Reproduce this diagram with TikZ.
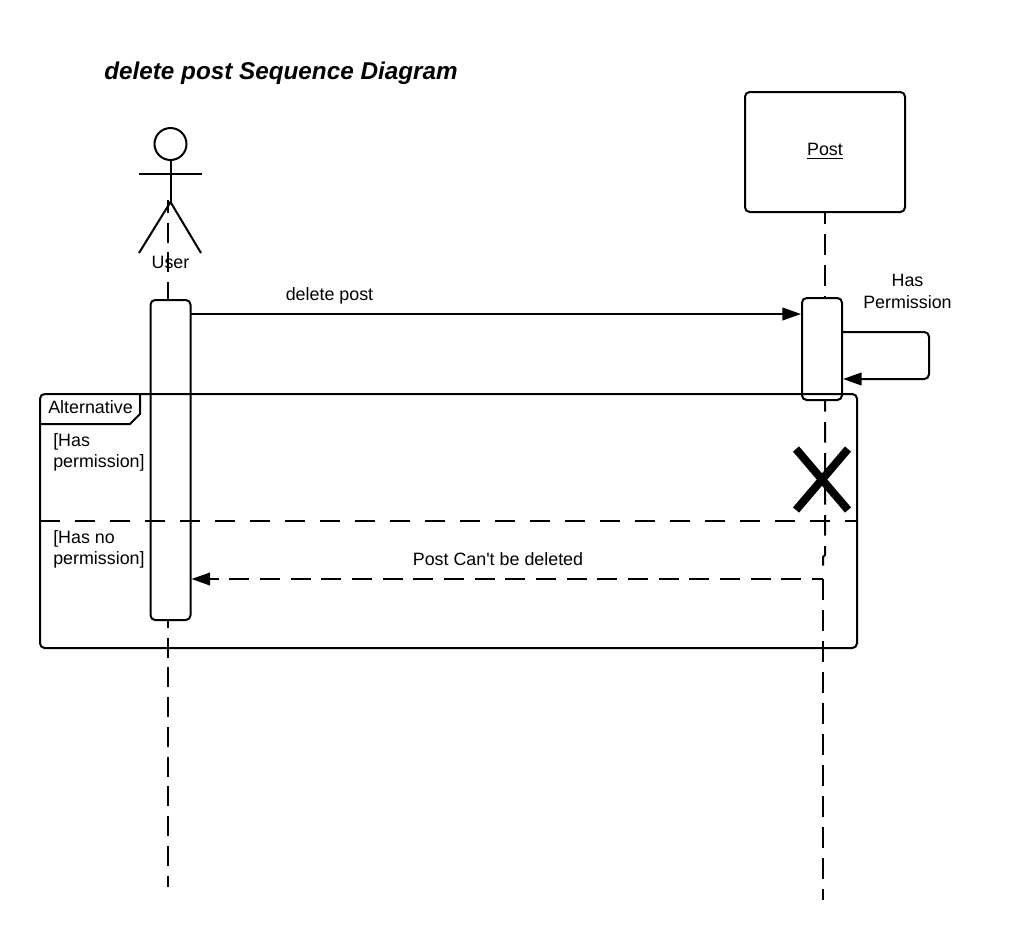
\documentclass[tikz,border=0pt]{standalone}
\usepackage{fontspec}
\setmainfont{Liberation Sans}
\usetikzlibrary{arrows.meta}
\tikzset{
  umlline/.style={draw=black,line width=1.5pt},
  lifeline/.style={draw=black,line width=1.5pt,dash pattern=on 15pt off 7.3pt},
  postline/.style={draw=black,line width=1.5pt,dash pattern=on 15.4pt off 7.85pt,dash phase=6.75pt},
  message/.style={umlline,-{Triangle[length=14pt,width=9.5pt]}},
  reply/.style={message,dash pattern=on 15pt off 8pt,dash phase=6.75pt},
  activation/.style={rectangle,draw=black,fill=white,line width=1.5pt,rounded corners=3.5pt,
    minimum width=30pt,outer sep=0pt,inner sep=0pt},
  label/.style={inner sep=0pt,font=\fontsize{13.4}{16}\selectfont,align=center},
  guard/.style={label,align=left}
}

\begin{document}
\begin{tikzpicture}[x=0.75pt,y=-0.75pt]
  \useasboundingbox (0,0) rectangle (1013,940);
  \node[inner sep=0pt,font=\fontsize{18.2}{22}\selectfont\bfseries\itshape] (title) at (281,73) {delete post Sequence Diagram};
  % actor
  \node[circle,draw=black,line width=1.5pt,minimum size=24pt,inner sep=0pt,outer sep=0pt] (head) at (170.5,144) {};
  \coordinate (hip) at (170.5,202);
  \coordinate (armleft) at (139,174);
  \coordinate (armright) at (202,174);
  \coordinate (legleft) at (139,253);
  \coordinate (legright) at (201,253);
  \draw[umlline] (head.south)--(hip);
  \draw[umlline] (armleft)--(armright);
  \draw[umlline] (legleft)--(hip)--(legright);
  \node[label] (user) at (170.5,262.5) {User};
  % post object
  \node[rectangle,draw=black,line width=1.5pt,rounded corners=3.5pt,minimum width=120pt,minimum height=90pt,
    inner sep=0pt,outer sep=0pt] (post) at (825,152) {};
  \node[label] (postname) at (825,151) {\underline{Post}};
  % activations
  \node[activation,minimum height=240pt] (userbar) at (170.5,460) {};
  \node[activation,minimum height=76.5pt] (postbar) at (822,349) {};
  % lifelines
  \coordinate (userstart) at (167.7,200);
  \coordinate (userend) at (167.7,887);
  \coordinate (postend) at (823,900);
  \coordinate (postjog) at (825,555);
  \coordinate (replystart) at (823,579);
  \draw[lifeline,dash phase=5.25pt] (userstart)--(userstart |- userbar.north);
  \draw[lifeline,dash phase=9pt] (userstart |- userbar.south)--(userend);
  \draw[postline] (post.south)--(post.south |- postbar.north);
  \draw[postline] (post.south |- postbar.south)--(postjog)--(823,557)--(823,566);
  \draw[postline,dash phase=0pt] (replystart)--(postend);
  % alternative frame
  \node[rectangle,draw=black,line width=1.5pt,rounded corners=3.5pt,minimum width=612.75pt,minimum height=190.5pt,
    inner sep=0pt,outer sep=0pt] (frame) at (448.5,521) {};
  \coordinate (tabtop) at (140,394);
  \coordinate (tabedge) at (140,414);
  \coordinate (tabcut) at (130,424);
  \coordinate (tabbottom) at (40,424);
  \draw[umlline] (tabtop)--(tabedge)--(tabcut)--(tabbottom);
  \node[label] (alt) at (90.5,407) {Alternative};
  \node[guard,anchor=north west] (guardyes) at (53,433) {[Has\\permission]};
  \node[guard,anchor=north west] (guardno) at (53,530) {[Has no\\permission]};
  \draw[umlline,dash pattern=on 15pt off 11.25pt] (frame.west |- 0,521)--(frame.east |- 0,521);
  % destruction
  \coordinate (xa) at (796,449);
  \coordinate (xb) at (848,510);
  \coordinate (xc) at (848,449);
  \coordinate (xd) at (796,510);
  \draw[draw=black,line width=6pt] (xa)--(xb);
  \draw[draw=black,line width=6pt] (xc)--(xd);
  % messages
  \draw[message] (userbar.east |- 0,314)--([xshift=-0.75pt]postbar.west |- 0,314);
  \node[label] (deletelabel) at (329.5,295.5) {delete post};
  \coordinate (loopa) at (929,332);
  \coordinate (loopb) at (929,379);
  \draw[message,rounded corners=3.5pt] (postbar.east |- loopa)--(loopa)--(loopb)--([xshift=0.75pt]postbar.east |- loopb);
  \node[label] (permlabel) at (907.5,291.5) {Has\\Permission};
  \draw[reply] (replystart)--([xshift=0.75pt]userbar.east |- replystart);
  \node[label] (replylabel) at (498,559.5) {Post Can\textquotesingle t be deleted};
\end{tikzpicture}
\end{document}
